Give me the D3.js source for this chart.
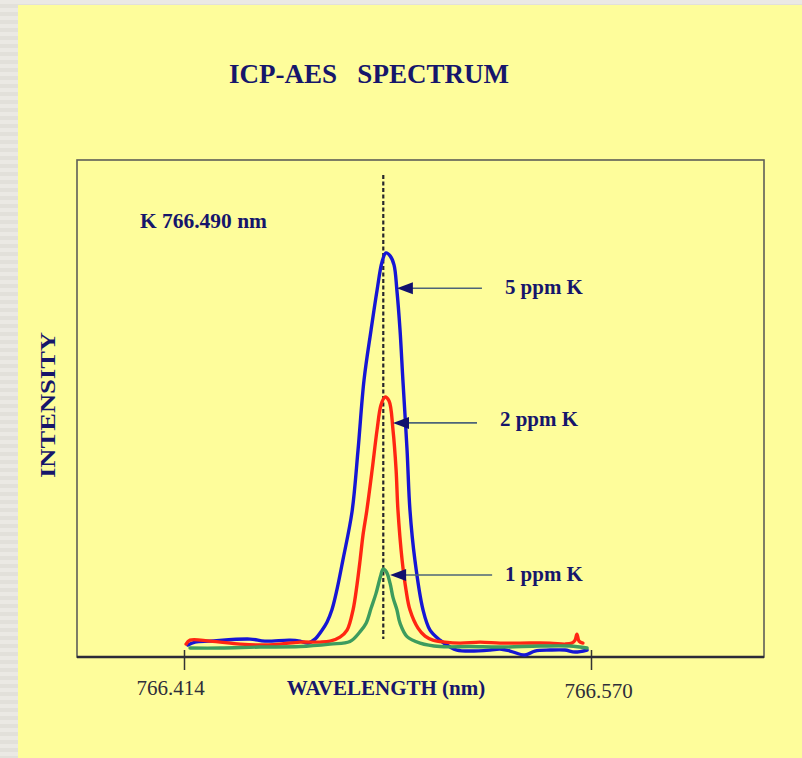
<!doctype html>
<html lang="en">
  <head>
    <meta charset="utf-8">
    <style>
    body { margin: 0; background: #e9e7e2; }
    .curve { fill: none; stroke-width: 3.4; stroke-linejoin: round; stroke-linecap: round; }
    .bold { font-family: "Liberation Serif", "Times New Roman", serif; font-weight: bold; fill: #16166b; }
    .tick-label { font-family: "Liberation Serif", "Times New Roman", serif; fill: #2e2e3a; }
    </style>
    <title>ICP-AES Spectrum</title>
  </head>
  <body>
    <div id="content"></div>

    <script src="https://d3js.org/d3.v7.min.js"></script>
    <script type="text/javascript">
    var w = 802;
    var h = 758;

    // wavelength (nm), intensity (arbitrary units, 0-100 frame height)
    var ppm5 = [
      [766.4155, 2.4], [766.4182, 3.0], [766.4240, 3.2], [766.4393, 3.6], [766.4450, 3.2],
      [766.4546, 3.4], [766.4585, 3.2], [766.4615, 2.8], [766.4642, 3.6], [766.4669, 5.4],
      [766.4688, 7.0], [766.4707, 9.5], [766.4726, 13.5], [766.4749, 19.5], [766.4784, 29.2],
      [766.4807, 41.6], [766.4830, 55.7], [766.4857, 65.8], [766.4880, 73.8], [766.4899, 79.5],
      [766.4914, 81.3], [766.4930, 80.7], [766.4945, 78.9], [766.4956, 73.8], [766.4968, 65.8],
      [766.4979, 55.7], [766.4995, 41.6], [766.5006, 29.6], [766.5025, 19.5], [766.5056, 9.5],
      [766.5083, 5.4], [766.5121, 3.4], [766.5160, 2.0], [766.5186, 1.4], [766.5236, 1.2],
      [766.5313, 1.4], [766.5351, 1.6], [766.5390, 1.2], [766.5447, 0.4], [766.5485, 1.2],
      [766.5543, 1.4], [766.5600, 1.4], [766.5639, 1.0], [766.5685, 1.4]
    ];

    var ppm2 = [
      [766.4148, 2.6], [766.4163, 3.4], [766.4240, 3.2], [766.4355, 2.6], [766.4431, 2.4],
      [766.4508, 2.6], [766.4585, 3.0], [766.4661, 3.0], [766.4700, 3.2], [766.4738, 4.0],
      [766.4765, 5.4], [766.4788, 9.5], [766.4803, 14.5], [766.4815, 19.5], [766.4826, 24.5],
      [766.4841, 29.6], [766.4861, 37.6], [766.4880, 45.7], [766.4895, 50.7], [766.4910, 52.3],
      [766.4926, 51.5], [766.4941, 45.7], [766.4953, 37.6], [766.4960, 29.6], [766.4976, 19.5],
      [766.4991, 13.5], [766.5006, 9.5], [766.5037, 5.8], [766.5064, 4.2], [766.5094, 3.4],
      [766.5140, 3.0], [766.5198, 2.8], [766.5275, 3.0], [766.5351, 2.8], [766.5428, 2.8],
      [766.5543, 2.8], [766.5600, 2.6], [766.5627, 2.8], [766.5639, 3.4], [766.5646, 4.6],
      [766.5654, 3.2], [766.5669, 2.8]
    ];

    var ppm1 = [
      [766.4163, 1.8], [766.4278, 1.8], [766.4431, 2.0], [766.4585, 2.1], [766.4700, 2.6],
      [766.4776, 3.1], [766.4815, 5.1], [766.4838, 6.8], [766.4857, 9.8], [766.4876, 12.8],
      [766.4893, 16.2], [766.4903, 17.7], [766.4916, 17.1], [766.4930, 14.8], [766.4941, 12.0],
      [766.4956, 9.5], [766.4968, 6.8], [766.4995, 4.1], [766.5045, 2.8], [766.5121, 2.1],
      [766.5236, 2.1], [766.5351, 2.0], [766.5504, 2.2], [766.5619, 2.2], [766.5685, 1.8]
    ];

    var tickValues = [766.414, 766.570];
    var tickLabels = ['766.414', '766.570'];
    var lineWavelength = 766.490;
    var lineLabel = 'K 766.490 nm';

    // annotation: label, arrow tip [nm, intensity], arrow tail nm
    var labels = ['5 ppm K', '2 ppm K', '1 ppm K'];
    var arrowTips = [[766.4956, 74.2], [766.4941, 47.1], [766.4930, 16.5]];
    var arrowTails = [766.5282, 766.5263, 766.5321];
    var labelX = [766.5370, 766.5351, 766.5370];

    var series = [
      {data: ppm5, color: '#1616d4'},
      {data: ppm2, color: '#ff2612'},
      {data: ppm1, color: '#3d9c5e'}
    ];

    var frame = {left: 77, right: 764, top: 160, bottom: 657};

    var svg = d3.select('#content')
                .append('svg')
                .attr('width', w)
                .attr('height', h)
                .style('display', 'block');

    // striped grey page edge
    var defs = svg.append('defs');
    var pattern = defs.append('pattern')
      .attr('id', 'stripes')
      .attr('width', 18)
      .attr('height', 8)
      .attr('patternUnits', 'userSpaceOnUse');
    pattern.append('rect').attr('width', 18).attr('height', 8).attr('fill', '#ebe9e4');
    pattern.append('rect').attr('y', 4).attr('width', 18).attr('height', 4).attr('fill', '#e2e0da');

    svg.append('rect')
      .attr('width', w)
      .attr('height', h)
      .attr('fill', 'url(#stripes)');

    svg.append('rect')
      .attr('x', 18)
      .attr('y', 5)
      .attr('width', w - 18)
      .attr('height', h - 5)
      .attr('fill', '#fefd9b');

    var xScale = d3.scaleLinear()
                   .domain([766.414, 766.570])
                   .range([184, 591]);

    var yScale = d3.scaleLinear()
                   .domain([0, 100])
                   .range([frame.bottom, frame.top]);

    // title
    svg.append('text')
      .attr('class', 'bold')
      .attr('x', 369)
      .attr('y', 83)
      .attr('text-anchor', 'middle')
      .style('font-size', '27px')
      .style('white-space', 'pre')
      .text('ICP-AES   SPECTRUM');

    // frame
    svg.append('rect')
      .attr('x', frame.left)
      .attr('y', frame.top)
      .attr('width', frame.right - frame.left)
      .attr('height', frame.bottom - frame.top)
      .attr('fill', 'none')
      .attr('stroke', '#5e5e58')
      .attr('stroke-width', 1.6);

    // x axis (only two ticks, no domain line - bottom edge drawn separately)
    var xAxis = d3.axisBottom(xScale)
                  .tickValues(tickValues)
                  .tickSize(20)
                  .tickFormat((d, i) => tickLabels[i]);

    var gx = svg.append('g')
      .attr('transform', `translate(0, ${frame.bottom - 7})`)
      .call(xAxis);
    gx.select('.domain').remove();
    gx.selectAll('.tick line')
      .attr('stroke', '#333')
      .attr('stroke-width', 1.5);
    gx.selectAll('.tick text')
      .attr('class', 'tick-label')
      .style('font-size', '21px')
      .attr('y', 30)
      .attr('dx', (d, i) => i == 0 ? -14 : 7)
      .attr('dy', (d, i) => i == 0 ? '0.71em' : '0.85em')
      .attr('fill', null);

    svg.append('line')
      .attr('x1', frame.left)
      .attr('x2', frame.right)
      .attr('y1', frame.bottom)
      .attr('y2', frame.bottom)
      .attr('stroke', '#2b2b38')
      .attr('stroke-width', 2.5);

    svg.append('text')
      .attr('class', 'bold')
      .attr('x', 386)
      .attr('y', 695)
      .attr('text-anchor', 'middle')
      .style('font-size', '21px')
      .text('WAVELENGTH (nm)');

    svg.append('text')
      .attr('class', 'bold')
      .attr('transform', 'translate(55, 405) rotate(-90)')
      .attr('text-anchor', 'middle')
      .attr('textLength', 146)
      .attr('lengthAdjust', 'spacingAndGlyphs')
      .style('font-size', '20px')
      .text('INTENSITY');

    // K line
    svg.append('text')
      .attr('class', 'bold')
      .attr('x', 140)
      .attr('y', 228)
      .attr('textLength', 127)
      .attr('lengthAdjust', 'spacingAndGlyphs')
      .style('font-size', '20px')
      .text(lineLabel);

    svg.append('line')
      .attr('x1', xScale(lineWavelength) + 1)
      .attr('x2', xScale(lineWavelength) + 1)
      .attr('y1', 175)
      .attr('y2', 639)
      .attr('stroke', '#26262c')
      .attr('stroke-width', 2.2)
      .attr('stroke-dasharray', '4,2.5');

    var line = d3.line()
                 .x(d => xScale(d[0]))
                 .y(d => yScale(d[1]))
                 .curve(d3.curveCatmullRom.alpha(0.5));

    svg.selectAll('.curve')
      .data(series)
      .enter()
      .append('path')
      .attr('class', 'curve')
      .attr('stroke', d => d.color)
      .attr('d', d => line(d.data));

    // arrows
    var ann = svg.selectAll('.ann')
      .data(labels)
      .enter()
      .append('g')
      .attr('class', 'ann');

    ann.append('line')
      .attr('x1', (d, i) => xScale(arrowTips[i][0]) + 10)
      .attr('x2', (d, i) => xScale(arrowTails[i]))
      .attr('y1', (d, i) => yScale(arrowTips[i][1]))
      .attr('y2', (d, i) => yScale(arrowTips[i][1]))
      .attr('stroke', '#4d6478')
      .attr('stroke-width', 1.6);

    ann.append('path')
      .attr('fill', '#10106e')
      .attr('d', (d, i) => {
        var x = xScale(arrowTips[i][0]);
        var y = yScale(arrowTips[i][1]);
        return `M${x},${y} L${x + 16},${y - 6} L${x + 16},${y + 6} Z`;
      });

    ann.append('text')
      .attr('class', 'bold')
      .attr('x', (d, i) => xScale(labelX[i]))
      .attr('y', (d, i) => yScale(arrowTips[i][1]) + (i == 1 ? 3 : 6))
      .attr('textLength', 78)
      .attr('lengthAdjust', 'spacingAndGlyphs')
      .style('font-size', '20px')
      .text(d => d);
    </script>
  </body>
</html>
